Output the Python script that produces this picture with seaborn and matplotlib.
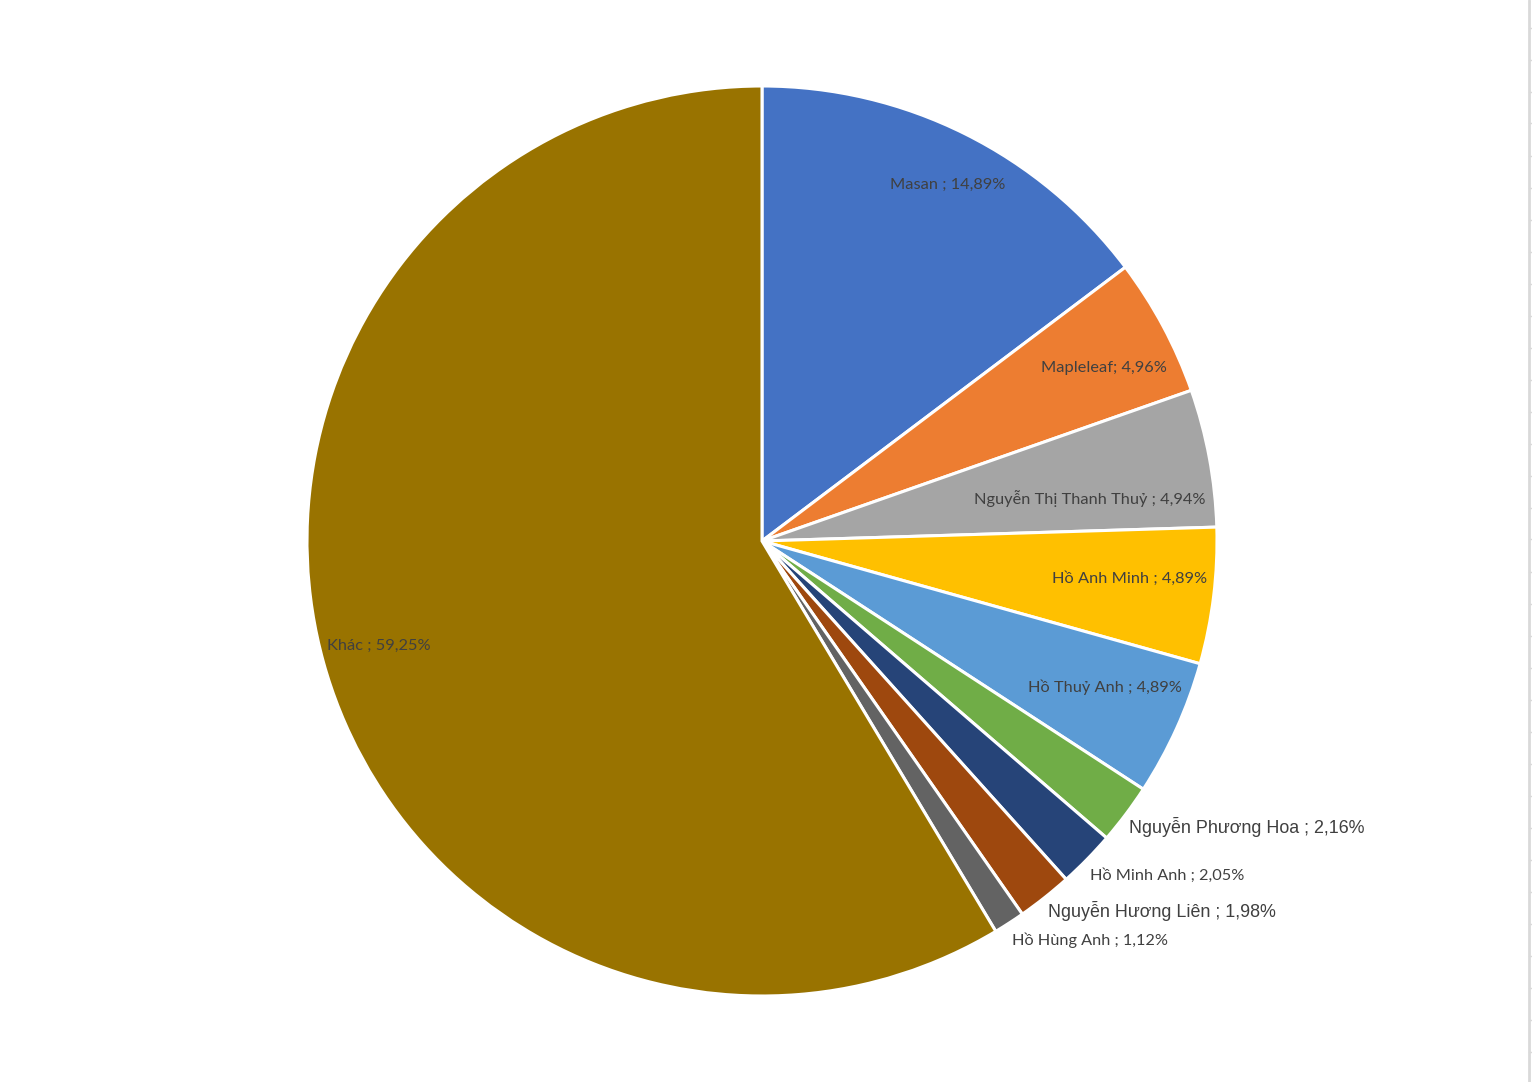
import numpy as np
import seaborn as sns
import matplotlib.pyplot as plt
from matplotlib.lines import Line2D

# slice data (as shown in the chart labels, clockwise from 12 o'clock)
names = ['Masan ', 'Mapleleaf', 'Nguyễn Thị Thanh Thuỷ ', 'Hồ Anh Minh ', 'Hồ Thuỷ Anh ',
         'Nguyễn Phương Hoa ', 'Hồ Minh Anh ', 'Nguyễn Hương Liên ', 'Hồ Hùng Anh ', 'Khác ']
shares = [14.89, 4.96, 4.94, 4.89, 4.89, 2.16, 2.05, 1.98, 1.12, 59.25]
colors = ['#4472C4', '#ED7D31', '#A5A5A5', '#FFC000', '#5B9BD5',
          '#70AD47', '#264478', '#9E480E', '#636363', '#997300']

# label placement: radial fraction (inside labels) or None for outside labels,
# plus a small angular nudge (deg) from the wedge middle
label_r = [0.883, 0.843, 0.727, 0.811, 0.82, None, None, None, None, 0.873]
label_dang = [-1.1, -1.3, -3.2, 1.1, 1.2, 0, 0, 0, 0, -0.2]
arial_like = [False, False, False, False, False, True, False, True, False, False]

sns.set_theme(style='white')
plt.rcParams['font.family'] = ['Lato', 'Noto Sans', 'DejaVu Sans']

fig = plt.figure(figsize=(15.32, 10.82), dpi=100)
W, H = 1532, 1082
cx, cy, R = 762, 541, 455
lim = 1.1
half = R * lim
ax = fig.add_axes([(cx - half) / W, (H - cy - half) / H, 2 * half / W, 2 * half / H])

wedges, _ = ax.pie(shares, colors=colors, startangle=90, counterclock=False,
                   wedgeprops=dict(edgecolor='white', linewidth=2.2))
ax.set_xlim(-lim, lim)
ax.set_ylim(-lim, lim)
ax.set_aspect('equal')
ax.axis('off')

txt_color = '#404040'
for w, name, val, r, da, ar in zip(wedges, names, shares, label_r, label_dang, arial_like):
    mid = np.deg2rad((w.theta1 + w.theta2) / 2 + da)
    label = f'{name}; {val:.2f}%'.replace('.', ',')
    if r is not None:
        ax.text(r * np.cos(mid), r * np.sin(mid), label, ha='center', va='center',
                fontsize=11.8, color=txt_color)
    else:
        x, y = 1.01 * np.cos(mid), 1.01 * np.sin(mid)
        if ar:
            ax.text(x, y - 0.001, label, ha='left', va='top', fontsize=12.9,
                    color=txt_color, family=['Liberation Sans', 'DejaVu Sans'])
        else:
            ax.text(x, y - 0.012, label, ha='left', va='top', fontsize=11.7, color=txt_color)

# spreadsheet gridline along the right edge
fig.add_artist(Line2D([1529 / W, 1529 / W], [0, 1], color='#d9d9d9', lw=2,
                      transform=fig.transFigure))
for yy in np.arange(27.5, H, 32):
    fig.add_artist(Line2D([1529 / W, 1532 / W], [1 - yy / H, 1 - yy / H], color='#d9d9d9',
                          lw=1, transform=fig.transFigure))

fig.savefig('out.png', dpi=100, facecolor='white')
